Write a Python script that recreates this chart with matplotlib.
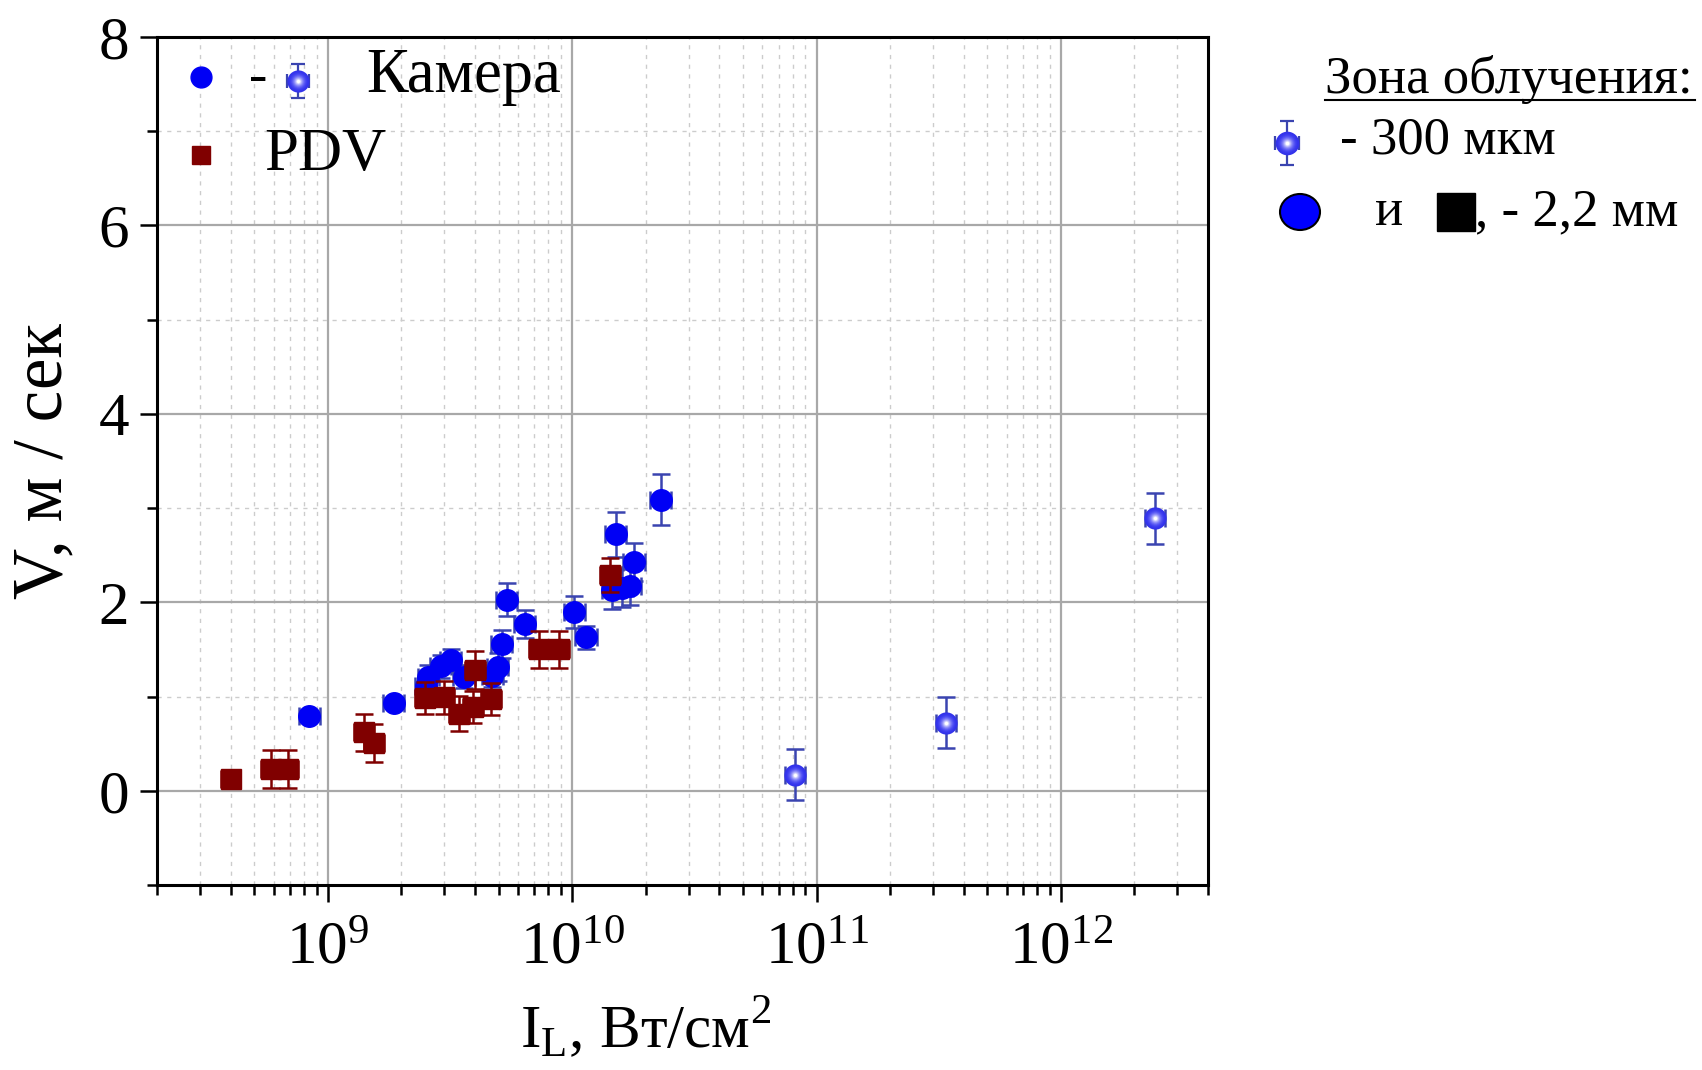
import numpy as np
import matplotlib
matplotlib.use("Agg")
import matplotlib.pyplot as plt
from matplotlib.ticker import LogLocator, LogFormatterMathtext, MultipleLocator, NullFormatter
from matplotlib.patches import Ellipse, Rectangle

plt.rcParams['font.family'] = ['Liberation Serif', 'DejaVu Serif']

# Камера, зона облучения 2,2 мм
cam_x = np.array([8.4e8, 1.86e9, 2.52e9, 2.58e9, 2.9e9, 3.18e9, 3.61e9, 4.72e9, 4.95e9,
                  5.15e9, 5.4e9, 6.4e9, 1.02e10, 1.14e10, 1.46e10, 1.6e10, 1.73e10,
                  1.51e10, 1.79e10, 2.30e10])
cam_y = np.array([0.79, 0.93, 1.11, 1.21, 1.32, 1.39, 1.21, 1.22, 1.31,
                  1.56, 2.03, 1.77, 1.90, 1.63, 2.13, 2.15, 2.17,
                  2.72, 2.43, 3.09])
cam_err = np.array([0.05, 0.05, 0.10, 0.12, 0.12, 0.12, 0.12, 0.12, 0.15,
                    0.15, 0.17, 0.15, 0.17, 0.12, 0.20, 0.20, 0.20,
                    0.24, 0.20, 0.27])

# PDV
pdv_x = np.array([4.0e8, 5.85e8, 6.9e8, 1.4e9, 1.55e9, 2.5e9, 3.0e9, 3.43e9, 3.93e9,
                  4.0e9, 4.64e9, 7.3e9, 8.8e9, 1.43e10])
pdv_y = np.array([0.12, 0.23, 0.23, 0.62, 0.51, 0.98, 0.99, 0.82, 0.89,
                  1.28, 0.97, 1.50, 1.50, 2.29])
pdv_err = np.array([0.05, 0.20, 0.20, 0.20, 0.20, 0.17, 0.17, 0.19, 0.17,
                    0.20, 0.17, 0.20, 0.20, 0.18])

# Камера, зона облучения 300 мкм
sm_x = np.array([8.15e10, 3.39e11, 2.43e12])
sm_y = np.array([0.17, 0.72, 2.89])
sm_err = np.array([0.27, 0.27, 0.27])

y_ticks = [0, 2, 4, 6, 8]

BLUE = '#0000f5'
BROWN = '#800000'
EBLUE = '#3a44b0'


def xerr_of(x, f):
    return np.vstack([x - x / f, x * f - x])


def glow(ax, x, y, d, z=6):
    # шарик с белым бликом в центре
    n = 12
    for i in range(n):
        t = i / (n - 1)
        c = (0.2 + 0.8 * t ** 2.2, 0.2 + 0.8 * t ** 2.2, 0.92 + 0.08 * t)
        ax.scatter(x, y, s=(d * (1 - 0.85 * t)) ** 2, color=c, lw=0, zorder=z + i * 0.01)


fig = plt.figure(figsize=(17.02, 10.70), dpi=100)
ax = fig.add_axes([157 / 1702, 1 - 885 / 1070, 1051 / 1702, 848 / 1070])
ax.set_xscale('log')
ax.set_xlim(2e8, 4e12)
ax.set_ylim(-1, 8)

ax.errorbar(cam_x, cam_y, yerr=cam_err, xerr=xerr_of(cam_x, 1.105), fmt='o', ms=15.5,
            mfc=BLUE, mec=BLUE, ecolor=EBLUE, elinewidth=1.8, capsize=6.5, capthick=1.8, zorder=4)
ax.errorbar(pdv_x, pdv_y, yerr=pdv_err, xerr=xerr_of(pdv_x, 1.098), fmt='s', ms=14.5,
            mfc=BROWN, mec=BROWN, ecolor=BROWN, elinewidth=1.8, capsize=6.5, capthick=1.8, zorder=5)
ax.errorbar(sm_x, sm_y, yerr=sm_err, xerr=xerr_of(sm_x, 1.1), fmt='none',
            ecolor=EBLUE, elinewidth=1.8, capsize=6.5, capthick=1.8, zorder=5)
glow(ax, sm_x, sm_y, 16)

ax.xaxis.set_major_locator(LogLocator(base=10, numticks=20))
ax.xaxis.set_major_formatter(LogFormatterMathtext())
ax.xaxis.set_minor_locator(LogLocator(base=10, subs=np.arange(2, 10), numticks=50))
ax.xaxis.set_minor_formatter(NullFormatter())
ax.set_yticks(y_ticks)
ax.yaxis.set_minor_locator(MultipleLocator(1))

ax.grid(which='major', color='#a8a8a8', lw=1.6, ls='-')
ax.grid(which='minor', color='#cccccc', lw=1.0, ls=(0, (3, 4)))
ax.set_axisbelow(True)

for s in ax.spines.values():
    s.set_linewidth(2.2)
ax.tick_params(which='major', direction='out', length=12, width=1.8, labelsize=44)
ax.tick_params(which='minor', direction='out', length=7, width=1.8)
ax.tick_params(axis='x', which='major', pad=14)
ax.tick_params(axis='y', which='major', pad=8)

ax.set_ylabel('V, м / сек', fontsize=51)
ax.yaxis.set_label_coords(-0.077, 0.5)
ax.set_xlabel('I$_\\mathregular{L}$, Вт/см$^\\mathregular{2}$', fontsize=44, va='top')
ax.xaxis.set_label_coords(0.465, -0.13)

# подписи поверх, в пикселях
lay = fig.add_axes([0, 0, 1, 1], zorder=10)
lay.set_xlim(0, 1702)
lay.set_ylim(1070, 0)
lay.axis('off')

lay.plot(201, 77, 'o', ms=15, color=BLUE)
lay.text(258, 92, '-', fontsize=40, ha='center', va='baseline')
lay.errorbar(298, 81, yerr=17, xerr=11, fmt='none', ecolor=EBLUE, elinewidth=1.6, capsize=5, capthick=1.6)
glow(lay, 298, 81, 16, z=12)
lay.text(366, 92, 'Камера', fontsize=45, va='baseline')
lay.plot(201, 155, 's', ms=13, color=BROWN)
lay.text(264, 170, 'PDV', fontsize=44, va='baseline')

lay.text(1325, 93, 'Зона облучения:', fontsize=38, va='baseline')
lay.plot([1325, 1695], [100, 100], color='black', lw=1.5)
lay.errorbar(1287, 143, yerr=22, xerr=12, fmt='none', ecolor=EBLUE, elinewidth=1.6, capsize=5, capthick=1.6)
glow(lay, 1287, 143, 17, z=12)
lay.text(1340, 153, '- 300 мкм', fontsize=38, va='baseline')
lay.add_patch(Ellipse((1300, 212), 40, 36, fc='#0000ff', ec='black', lw=1.5))
lay.text(1375, 225, 'и', fontsize=38, va='baseline')
lay.add_patch(Rectangle((1437, 193), 38, 38, fc='black', ec='black'))
lay.text(1475, 225, ', - 2,2 мм', fontsize=38, va='baseline')

fig.savefig('out.png', dpi=100)
